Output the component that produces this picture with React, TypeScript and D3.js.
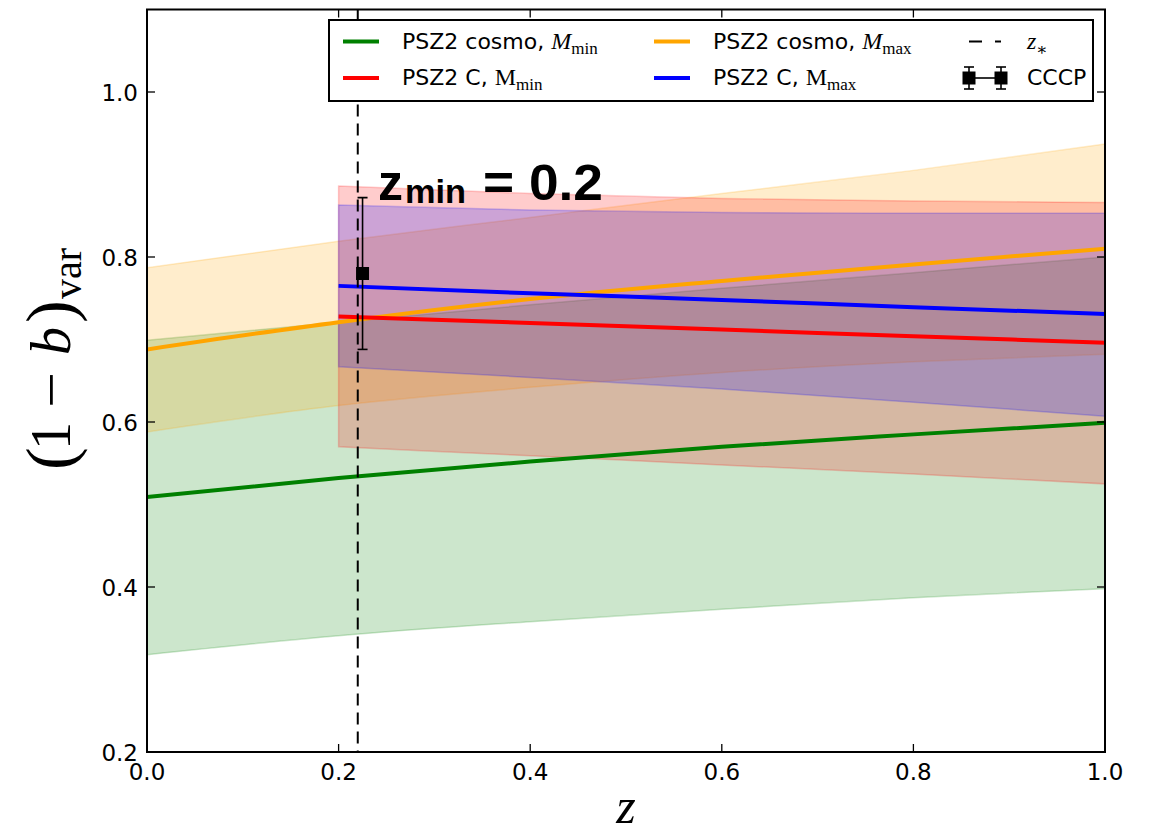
import React from "react";
import * as d3 from "d3";

// Redshift grid and bias bands for the PSZ2 cosmological sample
const zCosmo = [0, 0.2, 0.4, 0.6, 0.8, 1.0];
const cosmoMinMid = [0.509, 0.532, 0.552, 0.570, 0.585, 0.599];
const cosmoMinLo = [0.318, 0.341, 0.358, 0.373, 0.387, 0.398];
const cosmoMinHi = [0.699, 0.721, 0.742, 0.762, 0.781, 0.800];
const cosmoMaxMid = [0.688, 0.721, 0.749, 0.771, 0.791, 0.810];
const cosmoMaxLo = [0.588, 0.620, 0.642, 0.660, 0.673, 0.682];
const cosmoMaxHi = [0.787, 0.819, 0.848, 0.877, 0.905, 0.937];

// Redshift grid and bias bands for the PSZ2 C sample (z >= z_min)
const zC = [0.2, 0.4, 0.6, 0.8, 1.0];
const cMinMid = [0.728, 0.720, 0.712, 0.704, 0.696];
const cMinLo = [0.570, 0.559, 0.548, 0.537, 0.525];
const cMinHi = [0.886, 0.877, 0.871, 0.868, 0.866];
const cMaxMid = [0.765, 0.756, 0.748, 0.739, 0.731];
const cMaxLo = [0.667, 0.654, 0.640, 0.624, 0.607];
const cMaxHi = [0.863, 0.857, 0.854, 0.853, 0.853];

// Pivot redshift and CCCP measurement
const zStar = 0.22;
const cccpZ = 0.225;
const cccpValue = 0.78;
const cccpErr = 0.092;

const xTicks = [0, 0.2, 0.4, 0.6, 0.8, 1.0];
const yTicks = [0.2, 0.4, 0.6, 0.8, 1.0];

const W = 1154;
const H = 835;
const x = d3.scaleLinear().domain([0, 1]).range([147, 1105]);
const y = d3.scaleLinear().domain([0.2, 1.1]).range([752, 9.5]);

const GREEN = "#008000";
const ORANGE = "#FFA500";
const RED = "#FF0000";
const BLUE = "#0000FF";

type Pt = { z: number; lo: number; hi: number; mid: number };

function rows(zs: number[], mid: number[], lo: number[], hi: number[]): Pt[] {
  return zs.map((z, i) => ({ z, mid: mid[i], lo: lo[i], hi: hi[i] }));
}

const area = d3
  .area<Pt>()
  .x((d) => x(d.z))
  .y0((d) => y(d.lo))
  .y1((d) => y(d.hi))
  .curve(d3.curveMonotoneX);

const line = d3
  .line<Pt>()
  .x((d) => x(d.z))
  .y((d) => y(d.mid))
  .curve(d3.curveMonotoneX);

const bands = [
  { data: rows(zCosmo, cosmoMinMid, cosmoMinLo, cosmoMinHi), color: GREEN },
  { data: rows(zCosmo, cosmoMaxMid, cosmoMaxLo, cosmoMaxHi), color: ORANGE },
  { data: rows(zC, cMinMid, cMinLo, cMinHi), color: RED },
  { data: rows(zC, cMaxMid, cMaxLo, cMaxHi), color: BLUE },
];

const SANS = "DejaVu Sans, sans-serif";
const SERIF = "Liberation Serif, DejaVu Serif, serif";
const BOLD = "Liberation Sans, Arial, sans-serif";

export default function App() {
  const left = x(0);
  const right = x(1);
  const top = y(1.1);
  const bottom = y(0.2);
  const tickLen = 8;

  const cx = x(cccpZ);
  const cy = y(cccpValue);
  const eTop = y(cccpValue + cccpErr);
  const eBot = y(cccpValue - cccpErr);

  const legendRow1 = 41.5;
  const legendRow2 = 78;

  return (
    <svg
      width={W}
      height={H}
      viewBox={`0 0 ${W} ${H}`}
      style={{ position: "absolute", left: 0, top: 0, background: "#fff" }}
    >
      <rect x={0} y={0} width={W} height={H} fill="#fff" />

      <defs>
        <clipPath id="plot-clip">
          <rect x={left} y={top} width={right - left} height={bottom - top} />
        </clipPath>
      </defs>

      <g clipPath="url(#plot-clip)">
        {/* shaded bias bands */}
        {bands.map((b, i) => (
          <path
            key={`band-${i}`}
            d={area(b.data) || ""}
            fill={b.color}
            fillOpacity={0.2}
            stroke={b.color}
            strokeOpacity={0.2}
            strokeWidth={1.5}
          />
        ))}
        {/* best-fit lines */}
        {bands.map((b, i) => (
          <path
            key={`line-${i}`}
            d={line(b.data) || ""}
            fill="none"
            stroke={b.color}
            strokeWidth={4}
          />
        ))}
        {/* z_* marker */}
        <line
          x1={x(zStar)}
          x2={x(zStar)}
          y1={top}
          y2={bottom}
          stroke="#000"
          strokeWidth={2}
          strokeDasharray="12 7"
        />
        {/* CCCP point */}
        <g stroke="#000" strokeWidth={1.6}>
          <line x1={cx} x2={cx} y1={eTop} y2={eBot} />
          <line x1={cx - 5} x2={cx + 5} y1={eTop} y2={eTop} />
          <line x1={cx - 5} x2={cx + 5} y1={eBot} y2={eBot} />
        </g>
        <rect x={cx - 6.5} y={cy - 6.5} width={13} height={13} fill="#000" />
      </g>

      {/* annotation */}
      <g fontFamily={BOLD} fontWeight="bold" fill="#000">
        <text x={378} y={200} fontSize={50}>z</text>
        <text x={405} y={203} fontSize={33} textLength={61} lengthAdjust="spacingAndGlyphs">min</text>
        <text x={483} y={200} fontSize={50} textLength={120} lengthAdjust="spacingAndGlyphs">= 0.2</text>
      </g>

      {/* axes frame */}
      <rect
        x={left}
        y={top}
        width={right - left}
        height={bottom - top}
        fill="none"
        stroke="#000"
        strokeWidth={2}
      />

      {/* ticks */}
      <g stroke="#000" strokeWidth={1.3}>
        {xTicks.map((t) => (
          <g key={`xt-${t}`}>
            <line x1={x(t)} x2={x(t)} y1={bottom} y2={bottom - tickLen} />
            <line x1={x(t)} x2={x(t)} y1={top} y2={top + tickLen} />
          </g>
        ))}
        {yTicks.map((t) => (
          <g key={`yt-${t}`}>
            <line x1={left} x2={left + tickLen} y1={y(t)} y2={y(t)} />
            <line x1={right} x2={right - tickLen} y1={y(t)} y2={y(t)} />
          </g>
        ))}
      </g>

      <g fontFamily={SANS} fontSize={23} fill="#000">
        {xTicks.map((t) => (
          <text key={`xl-${t}`} x={x(t)} y={780} textAnchor="middle">
            {d3.format(".1f")(t)}
          </text>
        ))}
        {yTicks.map((t) => (
          <text key={`yl-${t}`} x={138} y={y(t) + 8.5} textAnchor="end">
            {d3.format(".1f")(t)}
          </text>
        ))}
      </g>

      {/* axis titles */}
      <text x={626} y={823} fontFamily={SERIF} fontStyle="italic" fontSize={50} textAnchor="middle">
        z
      </text>
      <g transform="rotate(-90)" fontFamily={SERIF} fill="#000">
        <text x={-470} y={73} fontSize={68}>(</text>
        <text x={-450} y={70} fontSize={56}>1</text>
        <text x={-408} y={70} fontSize={56} textLength={36} lengthAdjust="spacingAndGlyphs">−</text>
        <text x={-355} y={70} fontSize={56} fontStyle="italic">b</text>
        <text x={-323} y={73} fontSize={68}>)</text>
        <text x={-299} y={81} fontSize={40}>var</text>
      </g>

      {/* legend */}
      <rect x={329} y={20} width={764} height={81} fill="#fff" stroke="#000" strokeWidth={2} />
      <g strokeWidth={4}>
        <line x1={343} x2={379} y1={legendRow1} y2={legendRow1} stroke={GREEN} />
        <line x1={343} x2={379} y1={legendRow2} y2={legendRow2} stroke={RED} />
        <line x1={654} x2={690} y1={legendRow1} y2={legendRow1} stroke={ORANGE} />
        <line x1={654} x2={690} y1={legendRow2} y2={legendRow2} stroke={BLUE} />
      </g>
      <line
        x1={969}
        x2={1001}
        y1={legendRow1}
        y2={legendRow1}
        stroke="#000"
        strokeWidth={2}
        strokeDasharray="13 13"
      />
      <g stroke="#000" strokeWidth={1.6}>
        <line x1={969} x2={1001} y1={legendRow2} y2={legendRow2} />
        {[969, 1001].map((mx) => (
          <g key={`lm-${mx}`}>
            <line x1={mx} x2={mx} y1={legendRow2 - 11} y2={legendRow2 + 11} />
            <line x1={mx - 5} x2={mx + 5} y1={legendRow2 - 11} y2={legendRow2 - 11} />
            <line x1={mx - 5} x2={mx + 5} y1={legendRow2 + 11} y2={legendRow2 + 11} />
          </g>
        ))}
      </g>
      {[969, 1001].map((mx) => (
        <rect key={`lr-${mx}`} x={mx - 6.5} y={legendRow2 - 6.5} width={13} height={13} fill="#000" />
      ))}

      <g fontSize={22} fill="#000">
        <text x={402} y={48.5} fontFamily={SANS}>
          PSZ2 cosmo,{" "}
          <tspan fontFamily={SERIF} fontStyle="italic" fontSize={24}>M</tspan>
          <tspan fontFamily={SERIF} fontSize={17} dy={5}>min</tspan>
        </text>
        <text x={402} y={85} fontFamily={SANS}>
          PSZ2 C,{" "}
          <tspan fontFamily={SERIF} fontSize={24}>M</tspan>
          <tspan fontFamily={SERIF} fontSize={17} dy={5}>min</tspan>
        </text>
        <text x={713} y={48.5} fontFamily={SANS}>
          PSZ2 cosmo,{" "}
          <tspan fontFamily={SERIF} fontStyle="italic" fontSize={24}>M</tspan>
          <tspan fontFamily={SERIF} fontSize={17} dy={5}>max</tspan>
        </text>
        <text x={713} y={85} fontFamily={SANS}>
          PSZ2 C,{" "}
          <tspan fontFamily={SERIF} fontSize={24}>M</tspan>
          <tspan fontFamily={SERIF} fontSize={17} dy={5}>max</tspan>
        </text>
        <text x={1027} y={48.5} fontFamily={SERIF} fontStyle="italic" fontSize={24}>
          z<tspan fontStyle="normal" fontSize={17} dy={6}>∗</tspan>
        </text>
        <text x={1027} y={85} fontFamily={SANS}>CCCP</text>
      </g>
    </svg>
  );
}
